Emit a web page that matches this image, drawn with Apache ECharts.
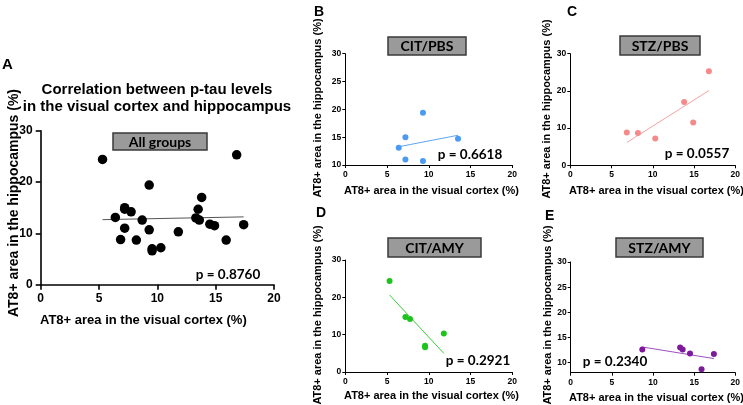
<!DOCTYPE html>
<html>
<head>
<meta charset="utf-8">
<script src="https://cdn.jsdelivr.net/npm/echarts@6/dist/echarts.min.js"></script>
<style>
  html, body { margin: 0; padding: 0; background: #fff; }
  #chart-container { width: 743px; height: 405px; }
</style>
</head>
<body>
<div id="chart-container"></div>
<script>
// Valores (AT8+ % corteza visual vs hipocampo)
var xTicks = [0, 5, 10, 15, 20];

var citPbsX = [6.4, 7.2, 7.2, 9.3, 9.3, 13.5];
var citPbsY = [13.1, 15.0, 11.0, 19.4, 10.7, 14.7];

var stzPbsX = [6.85, 8.2, 10.3, 13.8, 14.9, 16.8];
var stzPbsY = [8.8, 8.7, 7.2, 17.0, 11.5, 25.3];

var citAmyX = [5.3, 7.2, 7.75, 9.55, 9.55, 11.8];
var citAmyY = [24.4, 14.7, 14.2, 7.0, 6.6, 10.3];

var stzAmyX = [8.7, 13.3, 13.6, 14.5, 15.9, 17.4];
var stzAmyY = [12.6, 13.0, 12.6, 11.8, 8.7, 11.7];

var groupNames = ["All groups", "CIT/PBS", "STZ/PBS", "CIT/AMY", "STZ/AMY"];
var pValues = ["p = 0.8760", "p = 0.6618", "p = 0.0557", "p = 0.2921", "p = 0.2340"];

// todos los grupos juntos
var allX = citPbsX.concat(stzPbsX, citAmyX, stzAmyX);
var allY = citPbsY.concat(stzPbsY, citAmyY, stzAmyY);

function pares(xs, ys) {
  return xs.map(function (x, i) { return [x, ys[i]]; });
}

// recta de minimos cuadrados entre el x minimo y el x maximo
function recta(xs, ys) {
  var n = xs.length, mx = 0, my = 0;
  for (var i = 0; i < n; i++) { mx += xs[i]; my += ys[i]; }
  mx /= n; my /= n;
  var sxy = 0, sxx = 0;
  for (var j = 0; j < n; j++) {
    sxy += (xs[j] - mx) * (ys[j] - my);
    sxx += (xs[j] - mx) * (xs[j] - mx);
  }
  var b = sxy / sxx, a = my - b * mx;
  var x0 = Math.min.apply(null, xs), x1 = Math.max.apply(null, xs);
  return [[x0, a + b * x0], [x1, a + b * x1]];
}

var chart = echarts.init(document.getElementById('chart-container'));

var grids = [
  {left: 40.7, top: 130.7, width: 233.3, height: 154},
  {left: 345.3, top: 53.7, width: 167, height: 111.3},
  {left: 570.3, top: 53.7, width: 168.4, height: 111.6},
  {left: 345.3, top: 260, width: 167, height: 112},
  {left: 570.7, top: 262, width: 168, height: 110.7}
];

function ejeX(i, big) {
  return {
    gridIndex: i, type: 'value', min: 0, max: 20, interval: 5,
    axisLine: {onZero: false, lineStyle: {color: '#000', width: big ? 1.6 : 1}},
    axisTick: {length: big ? 5 : 3, lineStyle: {color: '#000', width: big ? 1.6 : 1}},
    axisLabel: {color: '#000', fontFamily: 'Liberation Sans', fontWeight: 'bold',
      fontSize: big ? 12 : 8.5, margin: big ? 8 : 5},
    splitLine: {show: false}
  };
}

function ejeY(i, big, min, max, interval, custom) {
  var ax = {
    gridIndex: i, type: 'value', min: min, max: max,
    axisLine: {show: true, onZero: false, lineStyle: {color: '#000', width: big ? 1.6 : 1}},
    axisTick: {show: true, length: big ? 5 : 3, lineStyle: {color: '#000', width: big ? 1.6 : 1}},
    axisLabel: {color: '#000', fontFamily: 'Liberation Sans', fontWeight: 'bold',
      fontSize: big ? 12 : 8.5, margin: big ? 8 : 4},
    splitLine: {show: false}
  };
  if (custom) {
    ax.axisTick.customValues = custom;
    ax.axisLabel.customValues = custom;
  } else {
    ax.interval = interval;
  }
  return ax;
}

var xAxes = [ejeX(0, true), ejeX(1), ejeX(2), ejeX(3), ejeX(4)];
var yAxes = [
  ejeY(0, true, 0, 30, 10),
  ejeY(1, false, 10, 30, 5),
  ejeY(2, false, 0, 30, 10),
  ejeY(3, false, 0, 30, 10),
  ejeY(4, false, 8, 30, null, [10, 15, 20, 25, 30])
];

var paneles = [
  {xs: allX, ys: allY, color: '#000', line: '#555', size: 9.5},
  {xs: citPbsX, ys: citPbsY, color: '#4c9bf2', line: '#5ea6f2', size: 6},
  {xs: stzPbsX, ys: stzPbsY, color: '#f48a8a', line: '#f5a3a3', size: 6},
  {xs: citAmyX, ys: citAmyY, color: '#1ec41e', line: '#3ccc3c', size: 6},
  {xs: stzAmyX, ys: stzAmyY, color: '#7d1a9c', line: '#a050c0', size: 6}
];

var series = [];
paneles.forEach(function (p, i) {
  series.push({
    type: 'line', xAxisIndex: i, yAxisIndex: i, data: recta(p.xs, p.ys),
    symbol: 'none', lineStyle: {color: p.line, width: 1}, z: 2
  });
  series.push({
    type: 'scatter', xAxisIndex: i, yAxisIndex: i, data: pares(p.xs, p.ys),
    symbolSize: p.size, itemStyle: {color: p.color, opacity: 1}, z: 3
  });
});

var fuenteTitulo = 'Liberation Sans';
var fuenteCaja = 'Lato';

function texto(x, y, t, size, align, rot) {
  return {
    type: 'text', x: x, y: y, rotation: rot || 0, z: 10,
    style: {text: t, fill: '#000', font: 'bold ' + size + 'px "' + fuenteTitulo + '"',
      align: align || 'left', verticalAlign: 'middle'}
  };
}

function caja(x, y, w, h, t) {
  return [
    {type: 'rect', shape: {x: x, y: y, width: w, height: h}, z: 10,
      style: {fill: '#9a9a9a', stroke: '#3a3a3a', lineWidth: 1.5}},
    {type: 'text', x: x + w / 2, y: y + h / 2 + 0.5, z: 11,
      style: {text: t, fill: '#000', font: 'bold 14px "' + fuenteCaja + '"',
        align: 'center', verticalAlign: 'middle'}}
  ];
}

function pTexto(x, y, t) {
  return {type: 'text', x: x, y: y, z: 10,
    style: {text: t, fill: '#000', font: 'bold 13.5px "' + fuenteCaja + '"',
      align: 'center', verticalAlign: 'middle'}};
}

var ejeXNombre = 'AT8+ area in the visual cortex (%)';
var ejeYNombre = 'AT8+ area in the hippocampus (%)';

var graficos = [
  texto(2, 65, 'A', 15), texto(314, 12, 'B', 14), texto(567, 12, 'C', 14),
  texto(316, 213, 'D', 14), texto(545, 216, 'E', 14),
  texto(157, 90, 'Correlation between p-tau levels', 15, 'center'),
  texto(157, 107, 'in the visual cortex and hippocampus', 15, 'center'),
  texto(40, 320, ejeXNombre, 13),
  texto(344, 191, ejeXNombre, 11),
  texto(569, 191, ejeXNombre, 11),
  texto(344, 396, ejeXNombre, 11),
  texto(569, 398, ejeXNombre, 11),
  texto(14, 203, ejeYNombre, 14, 'center', Math.PI / 2),
  texto(318, 108, ejeYNombre, 11, 'center', Math.PI / 2),
  texto(547, 109, ejeYNombre, 11, 'center', Math.PI / 2),
  texto(318, 315, ejeYNombre, 11, 'center', Math.PI / 2),
  texto(548, 315, ejeYNombre, 11, 'center', Math.PI / 2),
  pTexto(228, 275, pValues[0]),
  pTexto(470, 155, pValues[1]),
  pTexto(697, 154, pValues[2]),
  pTexto(478, 361, pValues[3]),
  pTexto(615, 361.5, pValues[4])
]
  .concat(caja(113, 133, 94, 17, groupNames[0]))
  .concat(caja(388, 37, 78, 18, groupNames[1]))
  .concat(caja(620, 36, 80, 19, groupNames[2]))
  .concat(caja(388, 238, 93, 19, groupNames[3]))
  .concat(caja(616, 238, 87, 19, groupNames[4]));

chart.setOption({
  animation: false,
  backgroundColor: '#fff',
  grid: grids,
  xAxis: xAxes,
  yAxis: yAxes,
  series: series,
  graphic: graficos
});
</script>
</body>
</html>
